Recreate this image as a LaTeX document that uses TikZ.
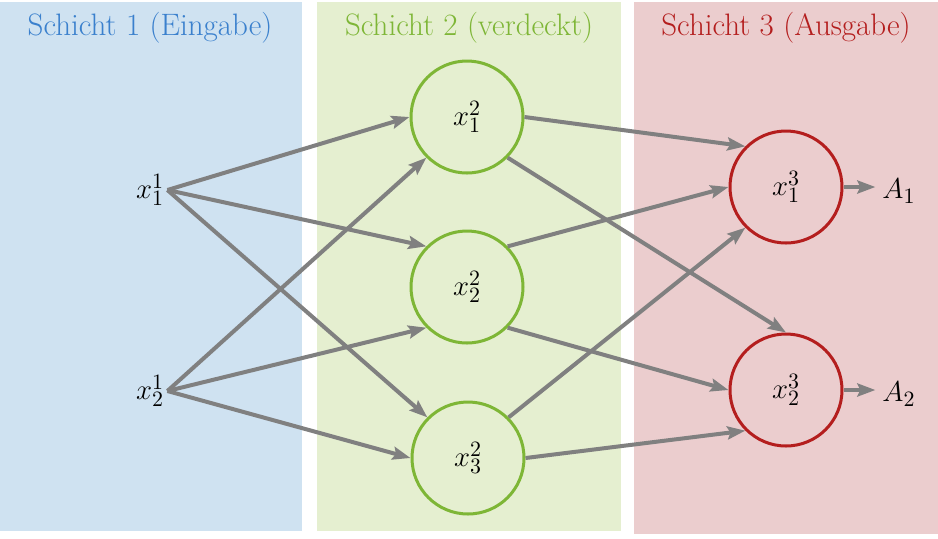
\documentclass[tikz,border=0pt]{standalone}
\usetikzlibrary{arrows.meta}

\definecolor{bluefill}{RGB}{207,226,241}
\definecolor{bluetext}{RGB}{58,128,205}
\definecolor{greenfill}{RGB}{229,239,208}
\definecolor{greenline}{RGB}{126,182,54}
\definecolor{redfill}{RGB}{235,205,206}
\definecolor{redline}{RGB}{180,30,30}
\definecolor{edgegray}{RGB}{128,128,128}

\tikzset{
    hidden/.style={circle, draw=greenline, line width=1.5pt, minimum size=56pt, inner sep=0pt},
    output/.style={circle, draw=redline, line width=1.5pt, minimum size=56pt, inner sep=0pt},
    edge/.style={draw=edgegray, line width=2pt, -{Stealth[length=9pt,width=6.5pt,inset=1.5pt]}},
    title/.style={font=\fontsize{15.5}{18}\selectfont}
}

\begin{document}
\begin{tikzpicture}[x=0.5pt, y=-0.5pt, every node/.style={font=\fontsize{15}{18}\selectfont}]
    \useasboundingbox (0,0) rectangle (938,538);
    \fill[bluefill] (0,2) rectangle (302,531);
    \fill[greenfill] (317,2) rectangle (621,531);
    \fill[redfill] (634,2) rectangle (938,534);

    \node[title, text=bluetext] (t1) at (150,28) {Schicht 1 (Eingabe)};
    \node[title, text=greenline] (t2) at (469,28) {Schicht 2 (verdeckt)};
    \node[title, text=redline] (t3) at (786,28) {Schicht 3 (Ausgabe)};

    \node[inner sep=1.5pt] (x11) at (150,190) {$x_1^1$};
    \node[inner sep=1.5pt] (x21) at (150,391) {$x_2^1$};

    \node[hidden] (x12) at (467,117) {$x_1^2$};
    \node[hidden] (x22) at (467,287) {$x_2^2$};
    \node[hidden] (x32) at (468,458) {$x_3^2$};

    \node[output] (x13) at (786,187) {$x_1^3$};
    \node[output] (x23) at (786,390) {$x_2^3$};

    \node (A1) at (899,191) {$A_1$};
    \node (A2) at (899,394) {$A_2$};

    \draw[edge] (x11.east) -- (x12.west);
    \draw[edge] (x11.east) -- (x22.north west);
    \draw[edge] (x11.east) -- (x32.north west);
    \draw[edge] (x21.east) -- (x12.south west);
    \draw[edge] (x21.east) -- (x22.south west);
    \draw[edge] (x21.east) -- (x32.west);

    \draw[edge] (x12.east) -- (x13.north west);
    \draw[edge] (x12.south east) -- (x23.north);
    \draw[edge] (x22.north east) -- (x13.west);
    \draw[edge] (x22.south east) -- (x23.west);
    \draw[edge] (x32.north east) -- (x13.south west);
    \draw[edge] (x32.east) -- (x23.south west);

    \draw[edge] (x13.east) -- (x13.east -| A1.west);
    \draw[edge] (x23.east) -- (x23.east -| A2.west);
\end{tikzpicture}
\end{document}
